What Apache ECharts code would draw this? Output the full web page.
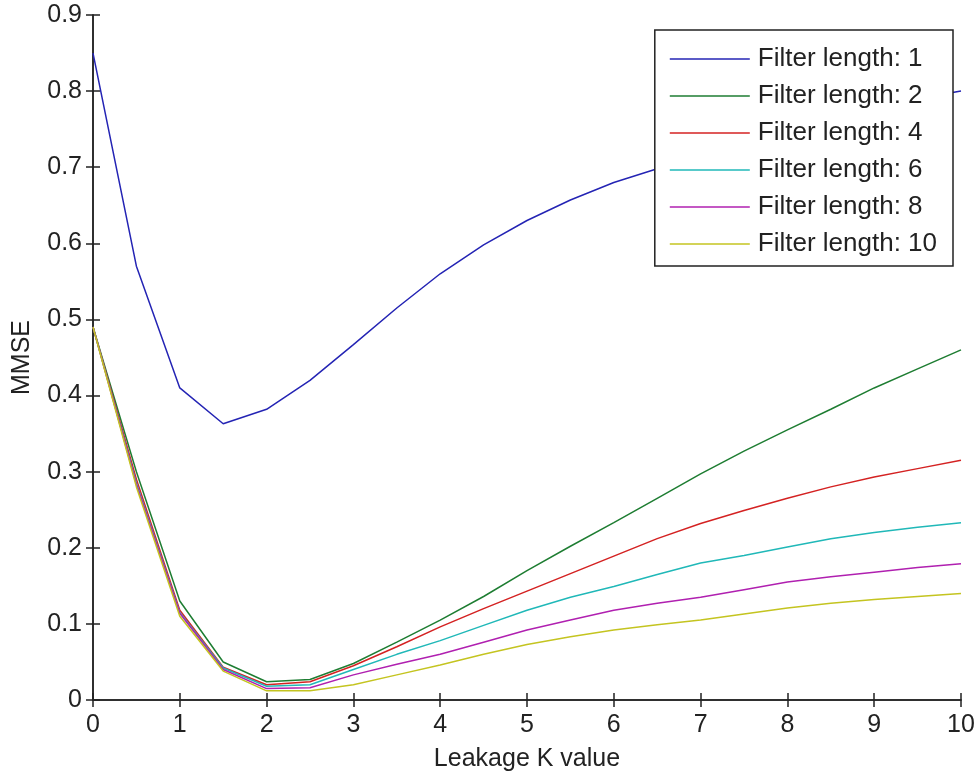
<!DOCTYPE html>
<html>
<head>
<meta charset="utf-8">
<script src="https://cdn.jsdelivr.net/npm/echarts@6/dist/echarts.min.js"></script>
<style>
  html, body { margin: 0; padding: 0; background: #fff; }
  #chart { width: 974px; height: 771px; }
</style>
</head>
<body>
<div id="chart"></div>
<script>
// K values (x axis)
var kValues = [0, 0.5, 1, 1.5, 2, 2.5, 3, 3.5, 4, 4.5, 5, 5.5, 6, 6.5, 7, 7.5, 8, 8.5, 9, 9.5, 10];
var seriesNames = ['Filter length: 1', 'Filter length: 2', 'Filter length: 4', 'Filter length: 6', 'Filter length: 8', 'Filter length: 10'];
// MMSE per filter length
var len1 = [0.85, 0.57, 0.41, 0.363, 0.382, 0.42, 0.467, 0.515, 0.56, 0.598, 0.63, 0.657, 0.68, 0.698, 0.715, 0.735, 0.752, 0.767, 0.78, 0.79, 0.80];
var len2 = [0.49, 0.30, 0.13, 0.05, 0.024, 0.027, 0.048, 0.076, 0.105, 0.136, 0.17, 0.202, 0.233, 0.265, 0.297, 0.327, 0.355, 0.382, 0.41, 0.435, 0.46];
var len4 = [0.49, 0.29, 0.118, 0.043, 0.02, 0.024, 0.045, 0.07, 0.096, 0.12, 0.143, 0.166, 0.189, 0.212, 0.232, 0.249, 0.265, 0.28, 0.293, 0.304, 0.315];
var len6 = [0.49, 0.285, 0.115, 0.042, 0.018, 0.02, 0.04, 0.06, 0.078, 0.098, 0.118, 0.135, 0.149, 0.165, 0.18, 0.19, 0.201, 0.212, 0.22, 0.227, 0.233];
var len8 = [0.49, 0.283, 0.114, 0.04, 0.015, 0.016, 0.033, 0.047, 0.06, 0.076, 0.092, 0.105, 0.118, 0.127, 0.135, 0.145, 0.155, 0.162, 0.168, 0.174, 0.179];
var len10 = [0.49, 0.28, 0.11, 0.038, 0.012, 0.012, 0.02, 0.033, 0.046, 0.06, 0.073, 0.083, 0.092, 0.099, 0.105, 0.113, 0.121, 0.127, 0.132, 0.136, 0.14];
var xTicks = [0, 1, 2, 3, 4, 5, 6, 7, 8, 9, 10];
var yTicks = [0, 0.1, 0.2, 0.3, 0.4, 0.5, 0.6, 0.7, 0.8, 0.9];

var colors = ['#2424b4', '#1e7d32', '#d42222', '#20b8b8', '#b020b0', '#c4c420'];
var allValues = [len1, len2, len4, len6, len8, len10];
var fontFamily = '"Liberation Sans", Arial, sans-serif';
var textColor = '#222';

function pairs(ys) {
    var out = [];
    for (var i = 0; i < kValues.length; i++) {
        out.push([kValues[i], ys[i]]);
    }
    return out;
}

var series = [];
for (var s = 0; s < allValues.length; s++) {
    series.push({
        name: seriesNames[s],
        type: 'line',
        symbol: 'none',
        data: pairs(allValues[s]),
        lineStyle: { width: 1.5, color: colors[s] },
        itemStyle: { color: colors[s] },
        animation: false
    });
}

function boxAxis(extra) {
    var base = {
        type: 'value',
        splitLine: { show: false },
        axisLine: { show: true, lineStyle: { color: '#222', width: 1.5 } },
        axisTick: { show: true, inside: true, length: 7, lineStyle: { color: '#222', width: 1.5 } },
        axisLabel: { show: false }
    };
    for (var key in extra) base[key] = extra[key];
    return base;
}

var myChart = echarts.init(document.getElementById('chart'));
var option = {
    backgroundColor: '#fff',
    color: colors,
    grid: { left: 93, right: 13, top: 15, bottom: 71, containLabel: false, outerBoundsMode: 'none' },
    legend: {
        orient: 'vertical',
        right: 21,
        top: 30,
        padding: [16, 16, 9, 15],
        backgroundColor: '#fff',
        borderColor: '#222',
        borderWidth: 1.5,
        borderRadius: 0,
        icon: 'path://M0,0 H80 V1.5 H0 Z',
        itemWidth: 80,
        itemHeight: 14,
        itemGap: 11,
        data: seriesNames,
        textStyle: { fontFamily: fontFamily, fontSize: 26, lineHeight: 26, color: textColor, padding: [0, 0, 0, 3] }
    },
    xAxis: [
        boxAxis({
            position: 'bottom', min: 0, max: 10, interval: 1,
            name: 'Leakage K value', nameLocation: 'middle', nameGap: 47,
            nameTextStyle: { fontFamily: fontFamily, fontSize: 25, color: textColor },
            axisLabel: {
                show: true, fontFamily: fontFamily, fontSize: 25, color: textColor, margin: 13,
                formatter: function (v) { return xTicks.indexOf(v) >= 0 ? String(v) : ''; }
            }
        }),
        boxAxis({ position: 'top', min: 0, max: 10, interval: 1 })
    ],
    yAxis: [
        boxAxis({
            position: 'left', min: 0, max: 0.9, interval: 0.1,
            name: 'MMSE', nameLocation: 'middle', nameGap: 58,
            nameTextStyle: { fontFamily: fontFamily, fontSize: 25, color: textColor },
            axisLabel: {
                show: true, fontFamily: fontFamily, fontSize: 25, color: textColor, margin: 11,
                formatter: function (v) {
                    var r = Math.round(v * 10) / 10;
                    return yTicks.indexOf(r) >= 0 ? String(r) : '';
                }
            }
        }),
        boxAxis({ position: 'right', min: 0, max: 0.9, interval: 0.1 })
    ],
    series: series
};
myChart.setOption(option);
</script>
</body>
</html>
